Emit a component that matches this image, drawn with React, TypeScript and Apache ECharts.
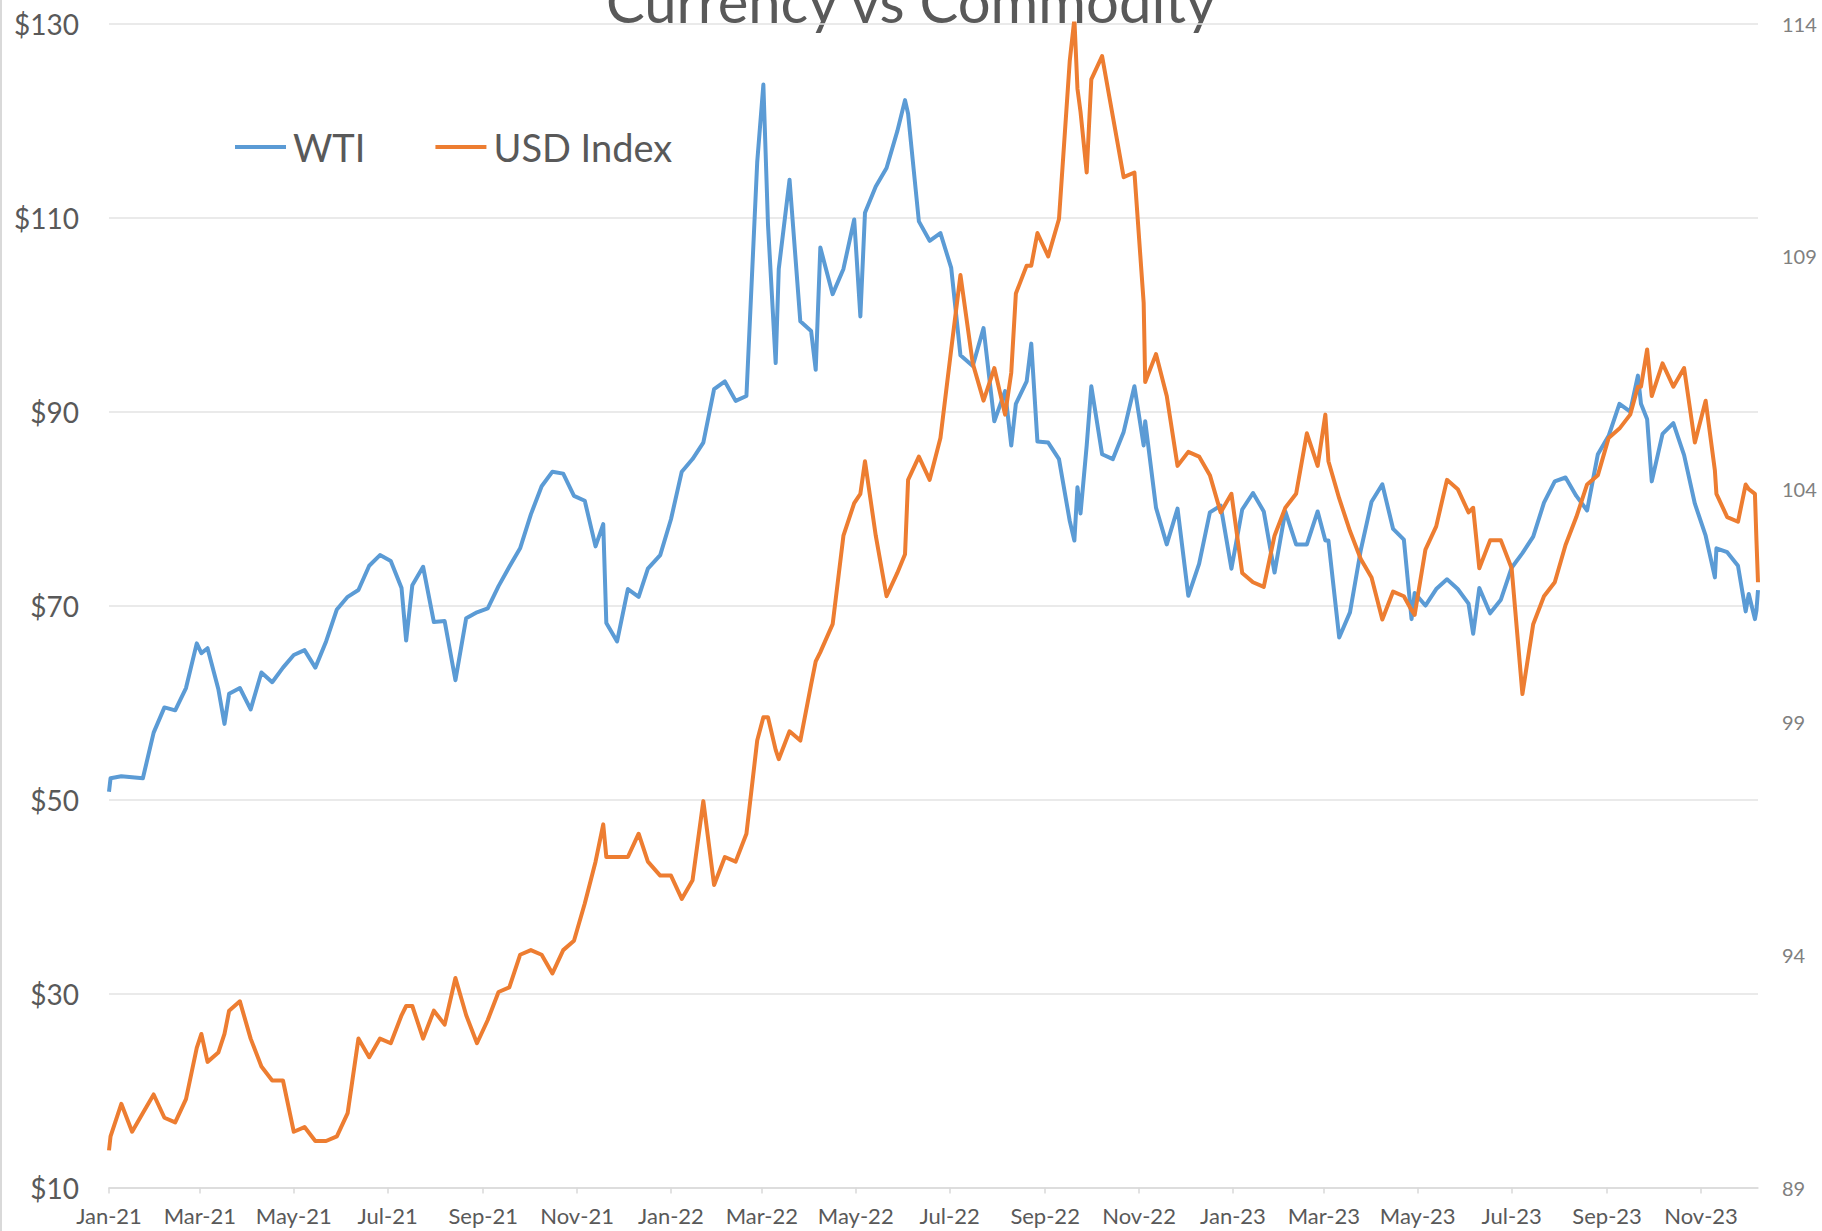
import React, { useEffect, useRef } from "react";
import * as echarts from "echarts";

const dates = [
  "2021-01-07", "2021-01-08", "2021-01-15", "2021-01-22", "2021-01-29", "2021-02-05", "2021-02-12", "2021-02-19", "2021-02-26",
  "2021-03-05", "2021-03-08", "2021-03-12", "2021-03-19", "2021-03-23", "2021-03-26", "2021-04-02", "2021-04-09", "2021-04-16",
  "2021-04-23", "2021-04-30", "2021-05-07", "2021-05-14", "2021-05-21", "2021-05-28", "2021-06-04", "2021-06-11", "2021-06-18",
  "2021-06-25", "2021-07-02", "2021-07-09", "2021-07-16", "2021-07-19", "2021-07-23", "2021-07-30", "2021-08-06", "2021-08-13",
  "2021-08-20", "2021-08-27", "2021-09-03", "2021-09-10", "2021-09-17", "2021-09-24", "2021-10-01", "2021-10-08", "2021-10-15",
  "2021-10-22", "2021-10-29", "2021-11-05", "2021-11-12", "2021-11-19", "2021-11-24", "2021-11-26", "2021-12-03", "2021-12-10",
  "2021-12-17", "2021-12-23", "2021-12-31",
  "2022-01-07", "2022-01-14", "2022-01-21", "2022-01-28", "2022-02-04", "2022-02-11", "2022-02-18", "2022-02-25", "2022-03-04",
  "2022-03-08", "2022-03-11", "2022-03-16", "2022-03-18", "2022-03-25", "2022-04-01", "2022-04-08", "2022-04-11", "2022-04-14",
  "2022-04-22", "2022-04-29", "2022-05-06", "2022-05-10", "2022-05-13", "2022-05-20", "2022-05-27", "2022-06-03", "2022-06-08", "2022-06-10",
  "2022-06-17", "2022-06-24", "2022-07-01", "2022-07-08", "2022-07-14", "2022-07-22", "2022-07-29", "2022-08-05", "2022-08-12", "2022-08-16",
  "2022-08-19", "2022-08-26", "2022-08-29", "2022-09-02", "2022-09-09", "2022-09-16", "2022-09-23", "2022-09-26", "2022-09-28", "2022-09-30", "2022-10-04",
  "2022-10-07", "2022-10-14", "2022-10-21", "2022-10-28", "2022-11-04", "2022-11-10", "2022-11-11", "2022-11-18", "2022-11-25",
  "2022-12-02", "2022-12-09", "2022-12-16", "2022-12-23", "2022-12-30",
  "2023-01-06", "2023-01-13", "2023-01-20", "2023-01-27", "2023-02-03", "2023-02-10", "2023-02-17", "2023-02-24", "2023-03-03",
  "2023-03-08", "2023-03-10", "2023-03-17", "2023-03-24", "2023-03-31", "2023-04-07", "2023-04-14", "2023-04-21", "2023-04-28",
  "2023-05-03", "2023-05-05", "2023-05-12", "2023-05-19", "2023-05-26", "2023-06-02", "2023-06-09", "2023-06-12", "2023-06-16",
  "2023-06-23", "2023-06-30", "2023-07-07", "2023-07-14", "2023-07-21", "2023-07-28", "2023-08-04", "2023-08-11", "2023-08-18",
  "2023-08-25", "2023-09-01", "2023-09-08", "2023-09-15", "2023-09-22", "2023-09-27", "2023-09-29", "2023-10-03", "2023-10-06",
  "2023-10-13", "2023-10-20", "2023-10-27", "2023-11-03", "2023-11-10", "2023-11-16", "2023-11-17", "2023-11-24", "2023-12-01",
  "2023-12-06", "2023-12-08", "2023-12-12", "2023-12-13", "2023-12-14",
];

const wti = [
  50.8, 52.2, 52.4, 52.3, 52.2, 56.9, 59.5, 59.2, 61.5,
  66.1, 65.1, 65.6, 61.4, 57.8, 60.9, 61.5, 59.3, 63.1,
  62.1, 63.6, 64.9, 65.4, 63.6, 66.3, 69.6, 70.9, 71.6,
  74.1, 75.2, 74.6, 71.8, 66.4, 72.1, 74.0, 68.3, 68.4,
  62.3, 68.7, 69.3, 69.7, 72.0, 74.0, 75.9, 79.4, 82.3,
  83.8, 83.6, 81.3, 80.8, 76.1, 78.4, 68.2, 66.3, 71.7,
  70.9, 73.8, 75.2,
  78.9, 83.8, 85.1, 86.8, 92.3, 93.1, 91.1, 91.6, 115.7,
  123.7, 109.3, 95.0, 104.7, 113.9, 99.3, 98.3, 94.3, 106.9,
  102.1, 104.7, 109.8, 99.8, 110.5, 113.2, 115.1, 118.9, 122.1, 120.7,
  109.6, 107.6, 108.4, 104.8, 95.8, 94.7, 98.6, 89.0, 92.1, 86.5,
  90.8, 93.1, 97.0, 86.9, 86.8, 85.1, 78.7, 76.7, 82.2, 79.5, 86.5,
  92.6, 85.6, 85.1, 87.9, 92.6, 86.5, 89.0, 80.1, 76.3,
  80.0, 71.0, 74.3, 79.6, 80.3,
  73.8, 79.9, 81.6, 79.7, 73.4, 79.7, 76.3, 76.3, 79.7,
  76.7, 76.7, 66.7, 69.3, 75.7, 80.7, 82.5, 77.9, 76.8,
  68.6, 71.3, 70.0, 71.7, 72.7, 71.7, 70.2, 67.1, 71.8,
  69.2, 70.6, 73.9, 75.4, 77.1, 80.6, 82.8, 83.2, 81.3,
  79.8, 85.6, 87.5, 90.8, 90.0, 93.7, 90.8, 89.2, 82.8,
  87.7, 88.8, 85.5, 80.5, 77.2, 72.9, 75.9, 75.5, 74.1,
  69.4, 71.2, 68.6, 69.5, 71.6,
];

const usdIndex = [
  89.8, 90.1, 90.8, 90.2, 90.6, 91.0, 90.5, 90.4, 90.9,
  92.0, 92.3, 91.7, 91.9, 92.3, 92.8, 93.0, 92.2, 91.6,
  91.3, 91.3, 90.2, 90.3, 90.0, 90.0, 90.1, 90.6, 92.2,
  91.8, 92.2, 92.1, 92.7, 92.9, 92.9, 92.2, 92.8, 92.5,
  93.5, 92.7, 92.1, 92.6, 93.2, 93.3, 94.0, 94.1, 94.0,
  93.6, 94.1, 94.3, 95.1, 96.0, 96.8, 96.1, 96.1, 96.1,
  96.6, 96.0, 95.7,
  95.7, 95.2, 95.6, 97.3, 95.5, 96.1, 96.0, 96.6, 98.6,
  99.1, 99.1, 98.4, 98.2, 98.8, 98.6, 99.8, 100.3, 100.5,
  101.1, 103.0, 103.7, 103.9, 104.6, 103.0, 101.7, 102.2, 102.6, 104.2,
  104.7, 104.2, 105.1, 107.0, 108.6, 106.7, 105.9, 106.6, 105.6, 106.5,
  108.2, 108.8, 108.8, 109.5, 109.0, 109.8, 113.2, 114.1, 112.6, 112.1, 110.8,
  112.8, 113.3, 112.0, 110.7, 110.8, 108.0, 106.3, 106.9, 106.0,
  104.5, 104.8, 104.7, 104.3, 103.5,
  103.9, 102.2, 102.0, 101.9, 103.0, 103.6, 103.9, 105.2, 104.5,
  105.6, 104.6, 103.8, 103.1, 102.5, 102.1, 101.2, 101.8, 101.7,
  101.4, 101.3, 102.7, 103.2, 104.2, 104.0, 103.5, 103.6, 102.3,
  102.9, 102.9, 102.3, 99.6, 101.1, 101.7, 102.0, 102.8, 103.4,
  104.1, 104.3, 105.1, 105.3, 105.6, 106.2, 106.2, 107.0, 106.0,
  106.7, 106.2, 106.6, 105.0, 105.9, 104.4, 103.9, 103.4, 103.3,
  104.1, 104.0, 103.9, 102.9, 102.0,
];

const xAxisStart = "2021-01-07";
const xAxisEnd = "2023-12-14";
const xTickDates = [
  "2021-01-07", "2021-03-07", "2021-05-07", "2021-07-07", "2021-09-07", "2021-11-07",
  "2022-01-07", "2022-03-07", "2022-05-07", "2022-07-07", "2022-09-07", "2022-11-07",
  "2023-01-07", "2023-03-07", "2023-05-07", "2023-07-07", "2023-09-07", "2023-11-07",
];
const monthNames = ["Jan", "Feb", "Mar", "Apr", "May", "Jun", "Jul", "Aug", "Sep", "Oct", "Nov", "Dec"];

const wtiAxis = { min: 10, max: 130, interval: 20 };
const usdAxis = { min: 89, max: 114, interval: 5 };

const titleText = "Currency vs Commodity";
const seriesNames = ["WTI", "USD Index"];

const toTs = (s: string) => {
  const [y, m, d] = s.split("-").map(Number);
  return Date.UTC(y, m - 1, d);
};

const FONT = "Lato, 'Open Sans', sans-serif";

export default function App() {
  const ref = useRef<HTMLDivElement>(null);

  useEffect(() => {
    if (!ref.current) return;
    const chart = echarts.init(ref.current, undefined, { renderer: "svg" });
    const tickValues = xTickDates.map(toTs);

    chart.setOption({
      animation: false,
      backgroundColor: "#ffffff",
      textStyle: { fontFamily: FONT },
      grid: { left: 109, right: 64, top: 23.5, bottom: 43.4, outerBoundsMode: "none" },
      legend: {
        left: 230,
        top: 123,
        itemWidth: 51,
        itemHeight: 4,
        itemGap: 70,
        icon: "rect",
        data: seriesNames,
        textStyle: { fontSize: 38, color: "#595959", fontFamily: FONT, padding: [0, 0, 0, 2] },
      },
      graphic: [
        {
          type: "text",
          x: 911,
          y: 0,
          style: {
            text: titleText,
            fontSize: 58,
            fontFamily: FONT,
            fill: "#595959",
            align: "center",
            verticalAlign: "middle",
          },
        },
        {
          type: "rect",
          shape: { x: 0, y: 0, width: 2, height: 1231 },
          style: { fill: "#d9d9d9" },
        },
      ],
      xAxis: {
        type: "value",
        min: toTs(xAxisStart),
        max: toTs(xAxisEnd),
        axisLine: { show: true, lineStyle: { color: "#d9d9d9", width: 1.5 } },
        axisTick: { show: true, customValues: tickValues, length: 6, lineStyle: { color: "#d9d9d9", width: 1.5 } },
        axisLabel: {
          customValues: tickValues,
          color: "#595959",
          fontSize: 22,
          fontFamily: FONT,
          margin: 17,
          formatter: (v: number) => {
            const d = new Date(v);
            return monthNames[d.getUTCMonth()] + "-" + String(d.getUTCFullYear()).slice(2);
          },
        },
        splitLine: { show: false },
      },
      yAxis: [
        {
          type: "value",
          position: "left",
          min: wtiAxis.min,
          max: wtiAxis.max,
          interval: wtiAxis.interval,
          axisLine: { show: false },
          axisTick: { show: false },
          axisLabel: {
            color: "#595959",
            fontSize: 28,
            fontFamily: FONT,
            margin: 30,
            formatter: (v: number) => "$" + v,
          },
          splitLine: { show: true, lineStyle: { color: "#e3e3e3", width: 1.5 } },
        },
        {
          type: "value",
          position: "right",
          min: usdAxis.min,
          max: usdAxis.max,
          interval: usdAxis.interval,
          axisLine: { show: false },
          axisTick: { show: false },
          axisLabel: { color: "#808080", fontSize: 20, fontFamily: FONT, margin: 24 },
          splitLine: { show: false },
        },
      ],
      series: [
        {
          name: seriesNames[0],
          type: "line",
          yAxisIndex: 0,
          showSymbol: false,
          symbol: "none",
          lineStyle: { color: "#5B9BD5", width: 4, join: "round" },
          itemStyle: { color: "#5B9BD5" },
          data: dates.map((d, i) => [toTs(d), wti[i]]),
        },
        {
          name: seriesNames[1],
          type: "line",
          yAxisIndex: 1,
          showSymbol: false,
          symbol: "none",
          lineStyle: { color: "#ED7D31", width: 4, join: "round" },
          itemStyle: { color: "#ED7D31" },
          data: dates.map((d, i) => [toTs(d), usdIndex[i]]),
        },
      ],
    });

    return () => chart.dispose();
  }, []);

  return (
    <div
      ref={ref}
      style={{ position: "fixed", left: 0, top: 0, width: 1822, height: 1231, background: "#ffffff" }}
    />
  );
}
